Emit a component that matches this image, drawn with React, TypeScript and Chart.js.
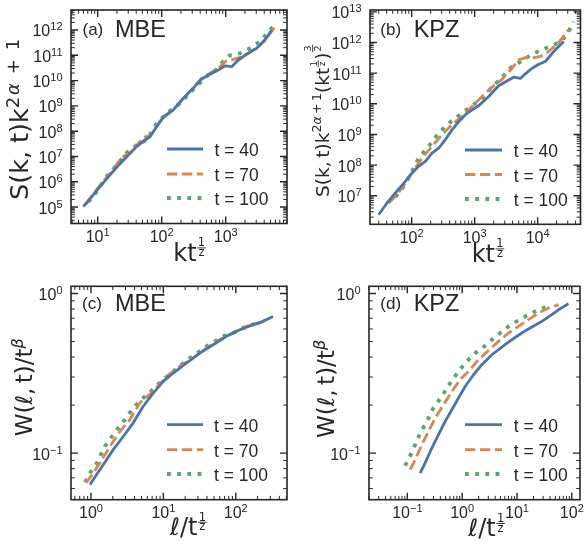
import React, { useEffect, useRef } from "react";
import { Chart, registerables } from "chart.js";

Chart.register(...registerables);

const SANS = '"Liberation Sans", Arial, sans-serif';
const MATH = '"DejaVu Sans", sans-serif';
const INK = "#262626";

const seriesNames = ["t = 40", "t = 70", "t = 100"];
const seriesColors = ["#4C72B0", "#DD8452", "#55A868"];
const seriesWidths = [2.8, 2.8, 3.8];
const seriesDashes: number[][] = [[], [10.4, 4.5], [3.8, 6.4]];

// ---------- (a) MBE structure factor ----------
const aX40 = [5.97, 10.9, 15.6, 21.0, 30.1, 40.6, 54.8, 65.6, 83.4, 106, 152, 205, 294, 421, 569, 767, 975, 1240, 1574, 2124, 3048, 4111, 5224];
const aY40 = [1.05e5, 6.4e5, 1.86e6, 4.4e6, 1.15e7, 2.45e7, 4.5e7, 6.0e7, 1.5e8, 3.5e8, 6.9e8, 1.7e9, 4.3e9, 1.15e10, 1.8e10, 2.6e10, 3.8e10, 3.55e10, 6.5e10, 1.1e11, 1.9e11, 4.0e11, 1.0e12];
const aX70 = [6.56, 10.9, 15.6, 20.3, 25.8, 34.0, 43.2, 54.8, 65.6, 83.4, 106, 152, 205, 294, 421, 569, 767, 975, 1318, 1679, 2255, 3236, 4365, 5890];
const aY70 = [1.3e5, 7.4e5, 2.1e6, 5.4e6, 1.05e7, 1.55e7, 3.3e7, 6.0e7, 6.5e7, 1.6e8, 3.7e8, 7.2e8, 1.6e9, 4.5e9, 1.23e10, 1.95e10, 3.0e10, 5.6e10, 6.9e10, 8.3e10, 1.2e11, 2.2e11, 4.7e11, 1.35e12];
const aX100 = [7.14, 9.64, 13.8, 19.8, 28.3, 40.6, 58.2, 83.4, 120, 193, 312, 505, 722, 918, 1167, 1671, 2400, 3436, 5546];
const aY100 = [1.6e5, 4.1e5, 1.6e6, 4.6e6, 1.4e7, 2.8e7, 4.5e7, 2.0e8, 5.1e8, 1.26e9, 4.5e9, 1.5e10, 2.8e10, 5.9e10, 1.0e11, 1.2e11, 1.9e11, 3.5e11, 1.4e12];

// ---------- (b) KPZ structure factor ----------
const bX40 = [29.9, 40.6, 55.1, 79.3, 95.3, 129, 165, 210, 268, 342, 437, 557, 711, 907, 1156, 1667, 2404, 3467, 4159, 5309, 6368, 8128, 10380, 13240, 19050, 25880];
const bY40 = [2.4e6, 5.8e6, 1.23e7, 2.95e7, 4.8e7, 9.1e7, 1.32e8, 2.45e8, 3.55e8, 6.8e8, 1.41e9, 2.6e9, 4.4e9, 6.3e9, 8.6e9, 1.74e10, 3.9e10, 6.0e10, 7.4e10, 6.7e10, 9.5e10, 1.45e11, 1.96e11, 2.4e11, 5.8e11, 1.07e12];
const bX70 = [43.2, 55.1, 70.3, 101, 146, 210, 303, 437, 629, 907, 1306, 1884, 2716, 3917, 4989, 6368, 8128, 11020, 14960, 21530, 31050];
const bY70 = [5.8e6, 9.6e6, 1.78e7, 5.5e7, 1.7e8, 4.1e8, 9.8e8, 2.1e9, 3.9e9, 8.1e9, 1.74e10, 3.5e10, 6.3e10, 1.45e11, 2.7e11, 3.2e11, 3.1e11, 3.5e11, 5.1e11, 1.0e12, 2.6e12];
const bX100 = [55.1, 74.6, 95.3, 129, 186, 268, 387, 557, 803, 1306, 1884, 2716, 3917, 5636, 8128, 11720, 17950, 24320, 31050, 37240];
const bY100 = [9.1e6, 2.0e7, 4.8e7, 1.7e8, 4.1e8, 1.1e9, 2.3e9, 4.1e9, 7.2e9, 1.5e10, 3.5e10, 7.4e10, 1.65e11, 2.5e11, 4.2e11, 5.8e11, 8.3e11, 1.17e12, 2.3e12, 4.8e12];

// ---------- (c) MBE local width ----------
const cX40 = [0.969, 1.197, 1.479, 2.03, 2.79, 3.84, 5.27, 7.24, 9.95, 13.7, 20.9, 31.9, 48.7, 74.3, 114, 173, 238, 327];
const cY40 = [0.0635, 0.0734, 0.0847, 0.1052, 0.1272, 0.1549, 0.1968, 0.2379, 0.2815, 0.3176, 0.3671, 0.4235, 0.4779, 0.5393, 0.593, 0.6379, 0.6694, 0.719];
const cX70 = [0.853, 1.077, 1.33, 1.83, 2.51, 3.45, 4.74, 7.24, 11.1, 16.9, 25.8, 39.4, 60.1, 91.8, 140, 214, 294];
const cY70 = [0.0651, 0.0751, 0.0869, 0.1102, 0.1367, 0.1624, 0.2065, 0.2444, 0.3023, 0.3506, 0.3947, 0.4556, 0.5136, 0.5661, 0.6222, 0.6526, 0.7021];
const cX100 = [0.826, 0.969, 1.197, 1.56, 2.14, 2.94, 3.84, 5.27, 7.24, 9.95, 13.7, 17.8, 23.2, 31.9, 39.4, 51.3, 66.8, 91.8, 140, 214];
const cY100 = [0.0657, 0.0751, 0.086, 0.1102, 0.1351, 0.1624, 0.1919, 0.2216, 0.252, 0.2891, 0.3253, 0.3583, 0.3947, 0.4346, 0.4668, 0.5013, 0.5393, 0.5661, 0.6222, 0.6593];

// ---------- (d) KPZ local width ----------
const dX40 = [0.1714, 0.2115, 0.28, 0.37, 0.49, 0.648, 0.857, 1.134, 1.61, 2.284, 3.476, 5.29, 8.05, 12.2, 18.7, 28.4, 43.2, 57.1, 86.9];
const dY40 = [0.0751, 0.0869, 0.1077, 0.1307, 0.1582, 0.1871, 0.2216, 0.2618, 0.3099, 0.3583, 0.4135, 0.4623, 0.5136, 0.5661, 0.6166, 0.6694, 0.737, 0.7914, 0.8629];
const dX70 = [0.1127, 0.139, 0.1837, 0.243, 0.322, 0.457, 0.648, 0.92, 1.305, 1.986, 3.02, 4.6, 7.0, 10.6, 16.2, 24.7, 37.5, 57.1];
const dY70 = [0.0788, 0.0911, 0.113, 0.1367, 0.166, 0.2011, 0.2434, 0.2891, 0.3253, 0.3848, 0.4401, 0.5013, 0.5661, 0.6222, 0.6863, 0.7552, 0.8107, 0.8514];
const dX100 = [0.0912, 0.1127, 0.139, 0.1714, 0.227, 0.3, 0.426, 0.604, 0.857, 1.216, 1.726, 2.449, 3.476, 4.93, 7.0, 10.6, 16.2, 24.7, 37.5];
const dY100 = [0.0835, 0.0965, 0.113, 0.1335, 0.1582, 0.1919, 0.2271, 0.2749, 0.3253, 0.3759, 0.4235, 0.4623, 0.5136, 0.5661, 0.6222, 0.6796, 0.737, 0.7914, 0.839];

// ---------- axis ranges and labelled decades ----------
const aXRange = [3.83, 9078];
const aYRange = [2.24e4, 6.17e12];
const aXDecades = [1, 2, 3];
const aYDecades = [5, 6, 7, 8, 9, 10, 11, 12];
const bXRange = [21.8, 47860];
const bYRange = [1.17e6, 1.15e13];
const bXDecades = [2, 3, 4];
const bYDecades = [7, 8, 9, 10, 11, 12, 13];
const cXRange = [0.53, 510];
const cYRange = [0.0511, 1.11];
const cXDecades = [0, 1, 2];
const cYDecades = [-1, 0];
const dXRange = [0.02, 141];
const dYRange = [0.0511, 1.11];
const dXDecades = [-1, 0, 1, 2];
const dYDecades = [-1, 0];

type Seg = {
  t?: string;
  num?: string;
  den?: string;
  size: number;
  rise?: number;
  italic?: boolean;
  font: string;
  ls?: number;
};

function fontOf(s: Seg) {
  return `${s.italic ? "italic " : ""}${s.size}px ${s.font}`;
}

function segWidth(ctx: CanvasRenderingContext2D, s: Seg) {
  ctx.font = fontOf(s);
  if (s.num !== undefined) {
    return Math.max(ctx.measureText(s.num).width, ctx.measureText(s.den || "").width) + 2.5;
  }
  const txt = s.t || "";
  return ctx.measureText(txt).width + (s.ls || 0) * Array.from(txt).length;
}

function drawRich(
  ctx: CanvasRenderingContext2D,
  segs: Seg[],
  x: number,
  y: number,
  align: "left" | "center" | "right",
  rotate = false
) {
  ctx.save();
  ctx.translate(x, y);
  if (rotate) ctx.rotate(-Math.PI / 2);
  ctx.textAlign = "left";
  ctx.textBaseline = "alphabetic";
  ctx.fillStyle = INK;
  const widths = segs.map((s) => segWidth(ctx, s));
  const total = widths.reduce((a, b) => a + b, 0);
  let cx = align === "left" ? 0 : align === "center" ? -total / 2 : -total;
  segs.forEach((s, i) => {
    const rise = s.rise || 0;
    ctx.font = fontOf(s);
    if (s.num !== undefined) {
      const w = widths[i];
      const barY = -rise;
      const wn = ctx.measureText(s.num).width;
      const wd = ctx.measureText(s.den || "").width;
      ctx.fillRect(cx + 0.6, barY - 0.45, w - 1.2, 0.9);
      ctx.fillText(s.num, cx + (w - wn) / 2, barY - 1.6);
      const dh = /\d/.test(s.den || "") ? 0.73 : 0.56;
      ctx.fillText(s.den || "", cx + (w - wd) / 2, barY + 1.8 + dh * s.size);
    } else if (s.ls) {
      let px = cx;
      Array.from(s.t || "").forEach((ch) => {
        ctx.fillText(ch, px, -rise);
        px += ctx.measureText(ch).width + (s.ls || 0);
      });
    } else {
      ctx.fillText(s.t || "", cx, -rise);
    }
    cx += widths[i];
  });
  ctx.restore();
}

function powLabel(n: number): Seg[] {
  const e = n < 0 ? "\u2212" + String(-n) : String(n);
  return [
    { t: "10", size: 16, font: SANS },
    { t: e, size: 11, rise: 6, font: SANS },
  ];
}

type Panel = {
  id: string;
  left: number;
  top: number;
  w: number;
  h: number;
  area: [number, number, number, number];
  xRange: number[];
  yRange: number[];
  xDecades: number[];
  yDecades: number[];
  xs: number[][];
  ys: number[][];
  tag: string;
  name: string;
  tagPos: [number, number];
  namePos: [number, number];
  legend: { x0: number; x1: number; tx: number; rows: number[] };
  xTitle: Seg[];
  xTitlePos: [number, number];
  yTitle: Seg[];
  yTitlePos: [number, number];
};

const S_LABEL_A: Seg[] = [
  { t: "S(k, t)k", size: 25.5, font: MATH },
  { t: "2", size: 18, rise: 9, font: MATH, ls: 1.6 },
  { t: "\u03b1", size: 18, rise: 9, italic: true, font: MATH, ls: 1.6 },
  { t: " + 1", size: 18, rise: 9, font: MATH, ls: 1.6 },
];
const S_LABEL_B: Seg[] = [
  { t: "S(k,\u2009t)k", size: 18.5, font: MATH },
  { t: "2", size: 12.5, rise: 7.5, font: MATH },
  { t: "\u03b1", size: 12.5, rise: 7.5, italic: true, font: MATH },
  { t: "\u2009+\u20091", size: 12.5, rise: 7.5, font: MATH },
  { t: "(kt", size: 18.5, font: MATH },
  { num: "1", den: "z", size: 8.5, rise: 10.5, font: MATH },
  { t: ")", size: 18.5, font: MATH },
  { num: "3", den: "2", size: 9.5, rise: 16, font: MATH },
];
const K_LABEL: Seg[] = [
  { t: "kt", size: 24, font: MATH },
  { num: "1", den: "z", size: 11.5, rise: 12.8, font: MATH },
];
const W_LABEL: Seg[] = [
  { t: "W(", size: 23, font: MATH },
  { t: "\u2113", size: 23, italic: true, font: MATH },
  { t: ",\u2009t)/t", size: 23, font: MATH },
  { t: "\u03b2", size: 16, rise: 9, italic: true, font: MATH },
];
const L_LABEL: Seg[] = [
  { t: "\u2113", size: 24, italic: true, font: MATH },
  { t: "/t", size: 24, font: MATH },
  { num: "1", den: "z", size: 11.5, rise: 12.8, font: MATH },
];

const panels: Panel[] = [
  {
    id: "a", left: 0, top: 0, w: 292, h: 273,
    area: [71, 10, 287, 223.5],
    xRange: aXRange, yRange: aYRange, xDecades: aXDecades, yDecades: aYDecades,
    xs: [aX40, aX70, aX100], ys: [aY40, aY70, aY100],
    tag: "(a)", name: "MBE", tagPos: [82.5, 34.5], namePos: [115, 37.3],
    legend: { x0: 167, x1: 203, tx: 214.5, rows: [149, 174, 198] },
    xTitle: K_LABEL, xTitlePos: [173.3, 260.7],
    yTitle: S_LABEL_A, yTitlePos: [28.3, 200],
  },
  {
    id: "b", left: 292, top: 0, w: 292, h: 273,
    area: [78, 10, 288.5, 224.3],
    xRange: bXRange, yRange: bYRange, xDecades: bXDecades, yDecades: bYDecades,
    xs: [bX40, bX70, bX100], ys: [bY40, bY70, bY100],
    tag: "(b)", name: "KPZ", tagPos: [88.3, 34.5], namePos: [121.7, 37.3],
    legend: { x0: 173, x1: 210, tx: 221.7, rows: [150, 174.5, 199] },
    xTitle: K_LABEL, xTitlePos: [179.7, 261.7],
    yTitle: S_LABEL_B, yTitlePos: [36.7, 197],
  },
  {
    id: "c", left: 0, top: 273, w: 292, h: 273,
    area: [71, 13.3, 287, 226.7],
    xRange: cXRange, yRange: cYRange, xDecades: cXDecades, yDecades: cYDecades,
    xs: [cX40, cX70, cX100], ys: [cY40, cY70, cY100],
    tag: "(c)", name: "MBE", tagPos: [82, 35.5], namePos: [115, 38.3],
    legend: { x0: 167, x1: 203, tx: 214, rows: [151.7, 176.7, 201] },
    xTitle: L_LABEL, xTitlePos: [170, 262],
    yTitle: W_LABEL, yTitlePos: [31.7, 163.3],
  },
  {
    id: "d", left: 292, top: 273, w: 292, h: 273,
    area: [77, 13.3, 288, 226.7],
    xRange: dXRange, yRange: dYRange, xDecades: dXDecades, yDecades: dYDecades,
    xs: [dX40, dX70, dX100], ys: [dY40, dY70, dY100],
    tag: "(d)", name: "KPZ", tagPos: [88.3, 35.5], namePos: [121.7, 38.3],
    legend: { x0: 173, x1: 210, tx: 221.7, rows: [151.7, 176.7, 201] },
    xTitle: L_LABEL, xTitlePos: [176.3, 263.3],
    yTitle: W_LABEL, yTitlePos: [41.7, 165],
  },
];

function logTicks(min: number, max: number) {
  const out: { v: number; major: boolean; n: number }[] = [];
  const n0 = Math.floor(Math.log10(min));
  const n1 = Math.ceil(Math.log10(max));
  for (let n = n0; n <= n1; n++) {
    for (let k = 1; k <= 9; k++) {
      const v = k * Math.pow(10, n);
      if (v >= min * 0.9999 && v <= max * 1.0001) out.push({ v, major: k === 1, n });
    }
  }
  return out;
}

function axesPlugin(p: Panel) {
  return {
    id: "mplAxes" + p.id,
    afterDatasetsDraw(chart: any) {
      const ctx: CanvasRenderingContext2D = chart.ctx;
      const { left, right, top, bottom } = chart.chartArea;
      const xs = chart.scales.x;
      const ys = chart.scales.y;
      ctx.save();
      ctx.strokeStyle = INK;
      ctx.setLineDash([]);
      ctx.lineCap = "butt";
      // ticks (inward, mirrored on all four sides)
      logTicks(p.xRange[0], p.xRange[1]).forEach((t) => {
        const px = xs.getPixelForValue(t.v);
        const len = t.major ? 7 : 3.8;
        ctx.lineWidth = t.major ? 1.4 : 1.0;
        ctx.beginPath();
        ctx.moveTo(px, bottom);
        ctx.lineTo(px, bottom - len);
        ctx.moveTo(px, top);
        ctx.lineTo(px, top + len);
        ctx.stroke();
      });
      logTicks(p.yRange[0], p.yRange[1]).forEach((t) => {
        const py = ys.getPixelForValue(t.v);
        const len = t.major ? 7 : 3.8;
        ctx.lineWidth = t.major ? 1.4 : 1.0;
        ctx.beginPath();
        ctx.moveTo(left, py);
        ctx.lineTo(left + len, py);
        ctx.moveTo(right, py);
        ctx.lineTo(right - len, py);
        ctx.stroke();
      });
      // frame
      ctx.lineWidth = 1.6;
      ctx.strokeRect(left, top, right - left, bottom - top);
      // tick labels
      p.xDecades.forEach((n) => {
        const px = xs.getPixelForValue(Math.pow(10, n));
        drawRich(ctx, powLabel(n), px, bottom + 18.3, "center");
      });
      p.yDecades.forEach((n) => {
        const py = ys.getPixelForValue(Math.pow(10, n));
        drawRich(ctx, powLabel(n), left - 8.5, py + 6.5, "right");
      });
      // axis titles
      drawRich(ctx, p.xTitle, p.xTitlePos[0], p.xTitlePos[1], "left");
      drawRich(ctx, p.yTitle, p.yTitlePos[0], p.yTitlePos[1], "left", true);
      // panel tag
      ctx.fillStyle = INK;
      ctx.textAlign = "left";
      ctx.textBaseline = "alphabetic";
      ctx.font = `17px ${SANS}`;
      ctx.fillText(p.tag, p.tagPos[0], p.tagPos[1]);
      ctx.font = `23.5px ${SANS}`;
      ctx.fillText(p.name, p.namePos[0], p.namePos[1]);
      // legend
      chart.data.datasets.forEach((ds: any, i: number) => {
        const ry = p.legend.rows[i];
        ctx.strokeStyle = ds.borderColor;
        ctx.lineWidth = ds.borderWidth;
        ctx.setLineDash(ds.borderDash || []);
        ctx.lineCap = "butt";
        ctx.beginPath();
        ctx.moveTo(p.legend.x0, ry);
        ctx.lineTo(p.legend.x1, ry);
        ctx.stroke();
        ctx.setLineDash([]);
        ctx.fillStyle = INK;
        ctx.font = `17.5px ${SANS}`;
        ctx.fillText(ds.label, p.legend.tx, ry + 7);
      });
      ctx.restore();
    },
  };
}

function PanelChart({ p }: { p: Panel }) {
  const ref = useRef<HTMLCanvasElement | null>(null);
  useEffect(() => {
    if (!ref.current) return;
    const datasets = p.xs.map((xArr, i) => ({
      label: seriesNames[i],
      data: xArr.map((x, j) => ({ x, y: p.ys[i][j] })),
      borderColor: seriesColors[i],
      backgroundColor: seriesColors[i],
      borderWidth: seriesWidths[i],
      borderDash: seriesDashes[i],
      borderCapStyle: "butt",
      borderJoinStyle: "round",
      pointRadius: 0,
      tension: 0,
      fill: false,
    }));
    const chart = new Chart(ref.current, {
      type: "line",
      data: { datasets } as any,
      options: {
        responsive: false,
        animation: false,
        devicePixelRatio: 1,
        events: [],
        layout: {
          padding: {
            left: p.area[0],
            top: p.area[1],
            right: p.w - p.area[2],
            bottom: p.h - p.area[3],
          },
        },
        plugins: { legend: { display: false }, tooltip: { enabled: false }, title: { display: false } },
        scales: {
          x: { type: "logarithmic", min: p.xRange[0], max: p.xRange[1], display: false },
          y: { type: "logarithmic", min: p.yRange[0], max: p.yRange[1], display: false },
        },
      } as any,
      plugins: [axesPlugin(p)],
    });
    return () => chart.destroy();
  }, [p]);
  return (
    <canvas
      ref={ref}
      width={p.w}
      height={p.h}
      style={{ position: "absolute", left: p.left, top: p.top, width: p.w, height: p.h }}
    />
  );
}

export default function App() {
  return (
    <div
      style={{
        position: "fixed",
        left: 0,
        top: 0,
        width: 584,
        height: 546,
        background: "#ffffff",
        overflow: "hidden",
      }}
    >
      {panels.map((p) => (
        <PanelChart key={p.id} p={p} />
      ))}
    </div>
  );
}
